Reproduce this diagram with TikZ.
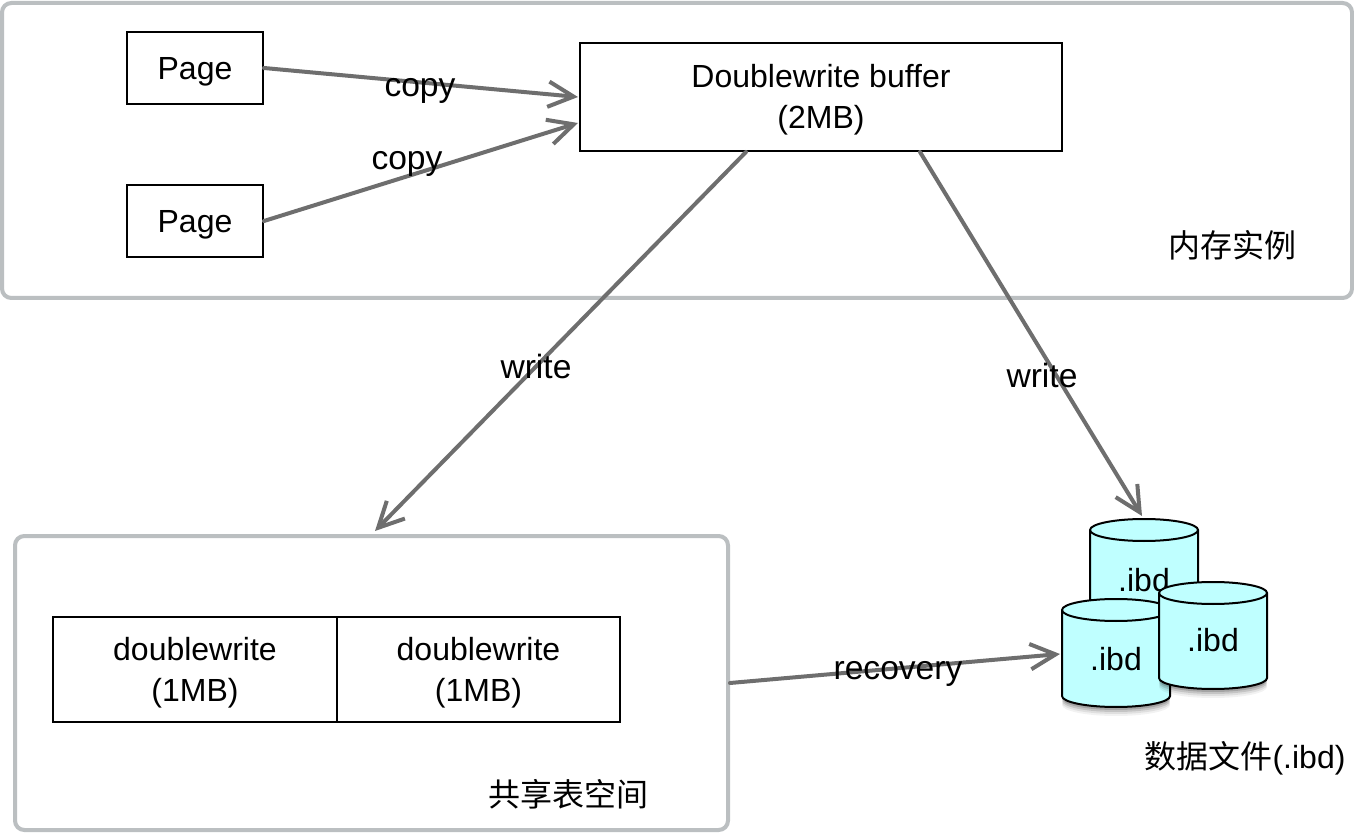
\documentclass[tikz,border=0pt]{standalone}
\usepackage{fontspec}
\setmainfont{Liberation Sans}
\newfontfamily\cjk{Noto Sans CJK SC}
\usetikzlibrary{arrows.meta,calc}
\newcommand{\topstrut}{\rule{0pt}{22.5pt}}
\newcommand{\dbcyl}[3]{%
  \foreach \o/\op in {9/0.05,7/0.08,5/0.12,3/0.16}{
    \fill[black,opacity=\op] (#1,-#3-\o) ellipse [x radius=54,y radius=11];
  }
  \draw[cylline] (#1-54,-#2) -- (#1-54,-#3) arc[start angle=180,end angle=360,x radius=54,y radius=11]
    -- (#1+54,-#2) arc[start angle=0,end angle=180,x radius=54,y radius=11] -- cycle;
  \draw[cylline,fill=none] (#1-54,-#2) arc[start angle=180,end angle=360,x radius=54,y radius=11];
}
\tikzset{
  x=.75pt,y=.75pt,
  txt/.style={font=\fontsize{24}{30.75}\selectfont,align=center,inner sep=0pt,text=black},
  edgetxt/.style={font=\fontsize{25.2}{30.75}\selectfont,align=center,inner sep=0pt,text=black},
  cjklabel/.style={font=\fontsize{24}{30}\selectfont\cjk,inner sep=0pt,text=black},
  box/.style={draw=black,line width=1.5pt,fill=white,txt},
  region/.style={draw=regiongray,line width=3pt,rounded corners=7pt,fill=white,inner sep=0pt},
  cylline/.style={draw=black,line width=1.5pt,fill=cylfill},
  link/.style={draw=linkgray,line width=3pt,line cap=round,-{Straight Barb[length=19pt,width=19pt]}},
}
\definecolor{regiongray}{HTML}{BBBFC1}
\definecolor{linkgray}{HTML}{6E6E6E}
\definecolor{cylfill}{HTML}{BFFFFF}
\begin{document}
\begin{tikzpicture}
\useasboundingbox (0,0) rectangle (1354,-834);
\node[region,minimum width=1012.5pt,minimum height=221.25pt] (mem) at (677,-150.5) {};
\node[region,minimum width=534.75pt,minimum height=220.5pt] (shared) at (371.5,-683) {};
\node[box,minimum width=102pt,minimum height=54pt] (page1) at (195,-68) {\topstrut Page};
\node[box,minimum width=102pt,minimum height=54pt] (page2) at (195,-221) {\topstrut Page};
\node[box,minimum width=361.5pt,minimum height=81pt] (buf) at (821,-97) {\rule{0pt}{21pt}Doublewrite buffer\\(2MB)};
\node[box,minimum width=213pt,minimum height=78.75pt] (dw1) at (195,-669.5) {\topstrut doublewrite\\(1MB)};
\node[box,minimum width=212.25pt,minimum height=78.75pt] (dw2) at (478.5,-669.5) {\topstrut doublewrite\\(1MB)};

\dbcyl{1144}{530}{617}
\node[txt] (ibd1) at (1144,-580) {.ibd};
\dbcyl{1116}{610}{696}
\node[txt] (ibd2) at (1116,-659) {.ibd};
\dbcyl{1213}{593}{678}
\node[txt] (ibd3) at (1213,-640) {.ibd};

\coordinate (top1) at (1142,-516);
\coordinate (left2) at (1060,-654);
\coordinate (sharedtop) at (375,-531);

\draw[link] (page1.east) -- ($(buf.west)+(-1,0)$);
\draw[link] (page2.east) -- ($(buf.west)+(-1,-26)$);
\draw[link] ($(buf.south)+(-75,0)$) -- (sharedtop);
\draw[link] ($(buf.south)+(99,0)$) -- (top1);
\draw[link] (shared.east) -- (left2);

\node[edgetxt] (copy1) at (420,-91) {copy};
\node[edgetxt] (copy2) at (407,-164) {copy};
\node[edgetxt] (write1) at (536,-366) {write};
\node[edgetxt] (write2) at (1042,-375) {write};
\node[edgetxt] (recovery) at (898,-674) {recovery};
\node[cjklabel] (memlabel) at (1232,-245) {内存实例};
\node[cjklabel] (sharedlabel) at (568,-794) {共享表空间};
\node[txt] (filelabel) at (1245,-758) {{\cjk 数据文件}(.ibd)};
\end{tikzpicture}
\end{document}
